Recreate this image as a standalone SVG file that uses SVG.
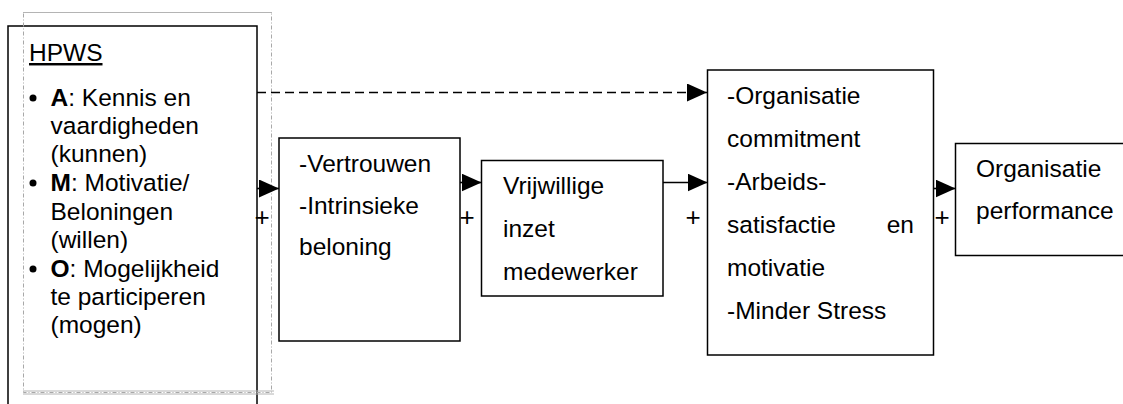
<svg xmlns="http://www.w3.org/2000/svg" width="1123" height="404" viewBox="0 0 1123 404">
  <style>
    .box { fill: #ffffff; stroke: #000000; stroke-width: 1.5; }
    .frame { fill: none; stroke: #a8a8a8; stroke-width: 1; stroke-dasharray: 4 2 1 2; }
    .frame-edge { fill: none; stroke: #b4b4b4; stroke-width: 1; }
    .txt { font-family: "Liberation Sans", Arial, Helvetica, sans-serif; font-size: 24.5px; fill: #000000; }
    .b { font-weight: bold; }
    .link { stroke: #000000; stroke-width: 1.6; fill: none; }
    .dash { stroke-dasharray: 9 5; }
    .plus { font-family: "Liberation Sans", Arial, Helvetica, sans-serif; font-size: 26px; fill: #000000; text-anchor: middle; }
  </style>
  <defs>
    <marker id="arrow" markerUnits="userSpaceOnUse" markerWidth="20" markerHeight="18" refX="20" refY="9" orient="auto">
      <path d="M0,0 L20,9 L0,18 Z" fill="#000000"/>
    </marker>
  </defs>

  <rect width="1123" height="404" fill="#ffffff"/>

  <!-- HPWS -->
  <g id="node-hpws">
    <rect class="box" x="8" y="26" width="249" height="400"/>
    <rect class="frame" x="23.5" y="12.5" width="248" height="380"/>
    <line class="frame-edge" x1="23" y1="12.5" x2="272" y2="12.5"/>
    <line class="frame-edge" x1="23" y1="391" x2="274" y2="391"/>
    <line class="frame-edge" x1="23" y1="394" x2="274" y2="394"/>
    <text class="txt" x="29" y="61" text-decoration="underline">HPWS</text>
    <circle cx="33" cy="98" r="3.5" fill="#000000"/>
    <text class="txt" x="50.5" y="106"><tspan class="b">A</tspan>: Kennis en</text>
    <text class="txt" x="50.5" y="134">vaardigheden</text>
    <text class="txt" x="50.5" y="162">(kunnen)</text>
    <circle cx="33" cy="183" r="3.5" fill="#000000"/>
    <text class="txt" x="50.5" y="191"><tspan class="b">M</tspan>: Motivatie/</text>
    <text class="txt" x="50.5" y="220">Beloningen</text>
    <text class="txt" x="50.5" y="248">(willen)</text>
    <circle cx="33" cy="269" r="3.5" fill="#000000"/>
    <text class="txt" x="50.5" y="277"><tspan class="b">O</tspan>: Mogelijkheid</text>
    <text class="txt" x="50.5" y="305">te participeren</text>
    <text class="txt" x="50.5" y="333">(mogen)</text>
  </g>

  <!-- Vertrouwen / intrinsieke beloning -->
  <g id="node-vertrouwen">
    <rect class="box" x="279" y="138" width="181" height="203"/>
    <text class="txt" x="299" y="172">-Vertrouwen</text>
    <text class="txt" x="299" y="213.5">-Intrinsieke</text>
    <text class="txt" x="299" y="255">beloning</text>
  </g>

  <!-- Vrijwillige inzet -->
  <g id="node-inzet">
    <rect class="box" x="481.5" y="160.5" width="181.5" height="135.5"/>
    <text class="txt" x="503" y="193.5">Vrijwillige</text>
    <text class="txt" x="503" y="237">inzet</text>
    <text class="txt" x="503" y="280">medewerker</text>
  </g>

  <!-- Uitkomsten medewerker -->
  <g id="node-uitkomsten">
    <rect class="box" x="707.5" y="70" width="226" height="285"/>
    <text class="txt" x="727" y="103.5">-Organisatie</text>
    <text class="txt" x="727" y="146.5">commitment</text>
    <text class="txt" x="727" y="190">-Arbeids-</text>
    <text class="txt" x="727" y="233">satisfactie</text>
    <text class="txt" x="914" y="233" text-anchor="end">en</text>
    <text class="txt" x="727" y="276">motivatie</text>
    <text class="txt" x="727" y="318.5">-Minder Stress</text>
  </g>

  <!-- Organisatie performance -->
  <g id="node-performance">
    <rect class="box" x="955.5" y="143.5" width="190" height="112"/>
    <text class="txt" x="976" y="177">Organisatie</text>
    <text class="txt" x="976" y="218.5">performance</text>
  </g>

  <!-- Connectors -->
  <g id="connectors">
    <line class="link dash" x1="257" y1="92.5" x2="707" y2="92.5" marker-end="url(#arrow)"/>
    <line class="link" x1="257" y1="188.5" x2="279" y2="188.5" marker-end="url(#arrow)"/>
    <line class="link" x1="460" y1="182.5" x2="481.5" y2="182.5" marker-end="url(#arrow)"/>
    <line class="link" x1="663" y1="182.5" x2="707.5" y2="182.5" marker-end="url(#arrow)"/>
    <line class="link" x1="933.5" y1="188.5" x2="955.5" y2="188.5" marker-end="url(#arrow)"/>
    <text class="plus" x="262" y="226">+</text>
    <text class="plus" x="467" y="226">+</text>
    <text class="plus" x="693" y="226">+</text>
    <text class="plus" x="942" y="226">+</text>
  </g>
</svg>
